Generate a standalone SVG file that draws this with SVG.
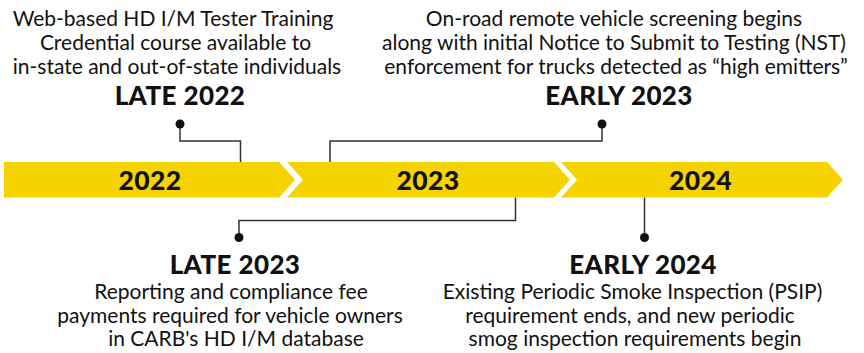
<svg xmlns="http://www.w3.org/2000/svg" width="864" height="353" viewBox="0 0 864 353">
<style>
.band{fill:#F5D300}
.yr{font-family:Lato,"Liberation Sans",sans-serif;font-weight:900;font-size:26.5px;letter-spacing:0.4px;fill:#111;text-anchor:middle}
.hd{font-family:Lato,"Liberation Sans",sans-serif;font-weight:900;font-size:26px;letter-spacing:0.4px;fill:#111;text-anchor:middle}
.bd{font-family:Lato,"Liberation Sans",sans-serif;font-size:21px;fill:#111;text-anchor:middle}
.ln{fill:none;stroke:#333;stroke-width:1.5}
.dot{fill:#111}
</style>
<rect width="864" height="353" fill="#fff"/>
<g id="band">
<g id="y2022"><polygon class="band" points="4,162 279,162 295,179.75 279,197.5 4,197.5"/><text class="yr" x="150" y="189.5">2022</text></g>
<g id="y2023"><polygon class="band" points="287,162 554,162 570,179.75 554,197.5 287,197.5 303,179.75"/><text class="yr" x="428" y="189.5">2023</text></g>
<g id="y2024"><polygon class="band" points="561,162 827,162 843,179.75 827,197.5 561,197.5 577,179.75"/><text class="yr" x="700.5" y="189.5">2024</text></g>
</g>
<g id="connectors">
<polyline class="ln" points="180,124 180,141 240.5,141 240.5,162"/>
<circle class="dot" cx="180" cy="124" r="4.5"/>
<polyline class="ln" points="602,124 602,141 330,141 330,162"/>
<circle class="dot" cx="602" cy="124" r="4.5"/>
<polyline class="ln" points="515.5,197.5 515.5,220.5 239,220.5 239,237.5"/>
<circle class="dot" cx="239" cy="237.5" r="4.5"/>
<polyline class="ln" points="644.5,197.5 644.5,237.5"/>
<circle class="dot" cx="644.5" cy="237.5" r="4.5"/>
</g>
<g id="late2022">
<text class="bd" x="173" y="26">Web-based HD I/M Tester Training</text>
<text class="bd" x="175.5" y="50">Credential course available to</text>
<text class="bd" x="177" y="74">in-state and out-of-state individuals</text>
<text class="hd" x="180" y="104.5">LATE 2022</text>
</g>
<g id="early2023">
<text class="bd" x="614" y="26">On-road remote vehicle screening begins</text>
<text class="bd" x="614" y="50">along with initial Notice to Submit to Testing (NST)</text>
<text class="bd" x="616" y="74">enforcement for trucks detected as “high emitters”</text>
<text class="hd" x="619" y="104.5">EARLY 2023</text>
</g>
<g id="late2023">
<text class="hd" x="235" y="274">LATE 2023</text>
<text class="bd" x="231" y="299">Reporting and compliance fee</text>
<text class="bd" x="230" y="322.5">payments required for vehicle owners</text>
<text class="bd" x="236" y="346">in CARB's HD I/M database</text>
</g>
<g id="early2024">
<text class="hd" x="643" y="274">EARLY 2024</text>
<text class="bd" x="632.5" y="299">Existing Periodic Smoke Inspection (PSIP)</text>
<text class="bd" x="630" y="322.5">requirement ends, and new periodic</text>
<text class="bd" x="635" y="346">smog inspection requirements begin</text>
</g>
</svg>
